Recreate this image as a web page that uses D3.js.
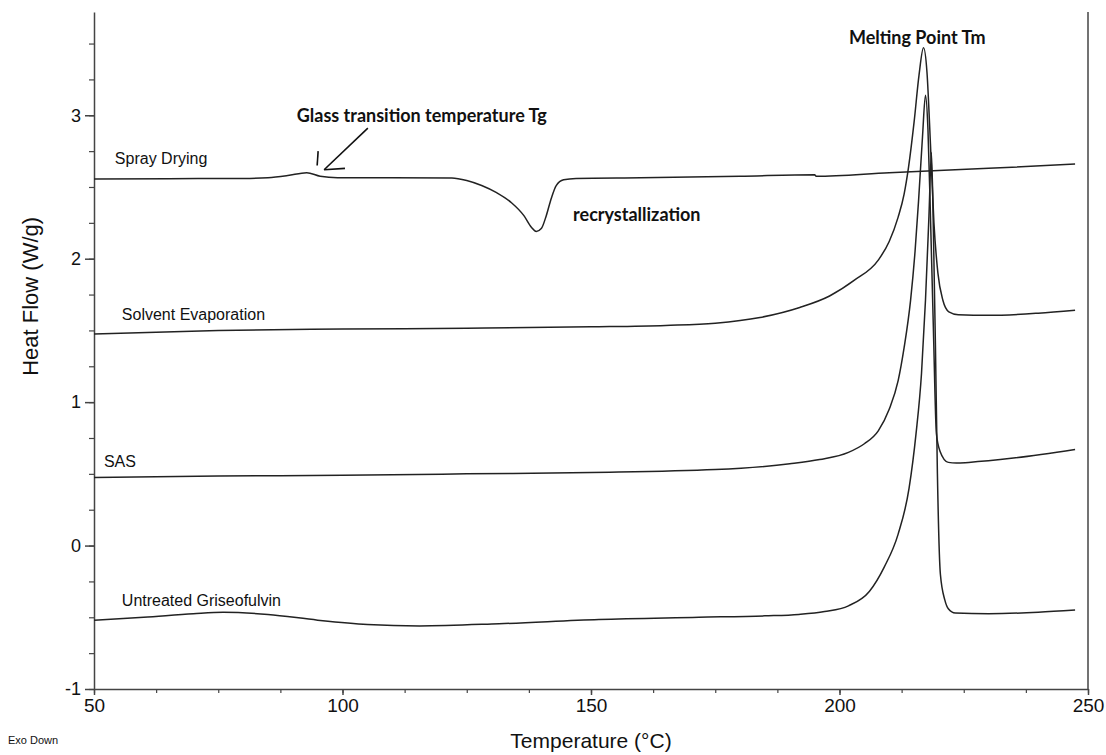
<!DOCTYPE html>
<html>
<head>
<meta charset="utf-8">
<script src="https://cdn.jsdelivr.net/npm/d3@7"></script>
<style>
  body { margin: 0; background: #fff; }
  svg { display: block; font-family: "Liberation Sans", Arial, sans-serif; }
</style>
</head>
<body>
<svg width="1106" height="755"></svg>
<script>
const svg = d3.select("svg");
const margin = { top: 12, right: 18, bottom: 66, left: 94 };
const width = svg.attr("width") - margin.left - margin.right;
const height = svg.attr("height") - margin.top - margin.bottom;

const chart = svg.append("g")
    .attr("transform", `translate(${margin.left},${margin.top})`);

// Spray Drying trace (Tg bump + recrystallization dip)
const sprayT = [50, 65, 80, 85, 89, 92.8, 95.5, 99, 110, 122, 125, 128, 131, 134, 136.5, 138, 139, 140, 141, 142, 143, 144.5, 147, 160, 180, 195, 195.3, 210, 230, 247.4];
const sprayV = [2.555, 2.558, 2.56, 2.565, 2.58, 2.60, 2.575, 2.565, 2.565, 2.563, 2.545, 2.51, 2.46, 2.39, 2.30, 2.22, 2.19, 2.21, 2.30, 2.42, 2.51, 2.55, 2.56, 2.565, 2.575, 2.585, 2.575, 2.60, 2.63, 2.66];

// Solvent Evaporation trace
const solventT = [50, 75, 100, 125, 150, 165, 175, 184, 192, 198, 203, 207.8, 210, 211.8, 213, 213.9, 215, 216, 216.9, 217.6, 218.3, 219, 219.8, 220.8, 222, 223.9, 230, 240, 247.4];
const solventV = [1.475, 1.50, 1.51, 1.515, 1.525, 1.535, 1.55, 1.59, 1.66, 1.74, 1.85, 1.99, 2.12, 2.29, 2.45, 2.64, 2.95, 3.28, 3.47, 3.3, 2.8, 2.25, 1.9, 1.71, 1.63, 1.61, 1.605, 1.62, 1.64];

// SAS trace
const sasT = [50, 75, 100, 125, 150, 175, 190, 196, 201.8, 205, 207.8, 210, 211.8, 213, 214.3, 215.2, 215.9, 216.7, 217.3, 217.8, 218.3, 218.9, 219.5, 220.2, 221.9, 223.5, 226, 235, 247.4];
const sasV = [0.475, 0.485, 0.49, 0.50, 0.51, 0.53, 0.57, 0.60, 0.65, 0.71, 0.80, 0.95, 1.15, 1.38, 1.71, 2.05, 2.4, 2.85, 3.14, 2.9, 2.3, 1.5, 0.78, 0.66, 0.58, 0.575, 0.58, 0.61, 0.67];

// Untreated Griseofulvin trace
const untreatedT = [50, 60, 70, 76, 85, 95, 105, 115.5, 131.5, 151.6, 171.7, 185, 191.8, 197, 201.8, 206, 209, 211.8, 214, 215.4, 216.5, 217.3, 218, 218.5, 218.9, 219.3, 219.7, 220.3, 221.2, 221.9, 223.3, 230, 240, 247.4];
const untreatedV = [-0.52, -0.50, -0.475, -0.465, -0.48, -0.52, -0.55, -0.56, -0.545, -0.515, -0.50, -0.49, -0.48, -0.46, -0.42, -0.32, -0.15, 0.08, 0.4, 0.78, 1.2, 1.71, 2.3, 2.74, 2.18, 1.4, 0.5, -0.2, -0.38, -0.44, -0.47, -0.475, -0.465, -0.45];

const series = [
    { name: "Spray Drying", t: sprayT, v: sprayV, labelT: 54.2, labelV: 2.66 },
    { name: "Solvent Evaporation", t: solventT, v: solventV, labelT: 55.6, labelV: 1.575 },
    { name: "SAS", t: sasT, v: sasV, labelT: 52, labelV: 0.55 },
    { name: "Untreated Griseofulvin", t: untreatedT, v: untreatedV, labelT: 55.6, labelV: -0.42 }
];

const xTicks = [50, 100, 150, 200, 250];
const yTicks = [-1, 0, 1, 2, 3];

const xScale = d3.scaleLinear().domain([50, 250]).range([0, width]);
const yScale = d3.scaleLinear().domain([-1, 3.72]).range([height, 0]);

// minor ticks
const xMinor = d3.range(50, 250.01, 12.5);
const yMinor = d3.range(-1, 3.6, 0.25);

chart.append("g")
    .attr("transform", `translate(0,${height})`)
    .call(d3.axisBottom(xScale).tickValues(xMinor).tickSize(4).tickFormat(""))
    .call(g => g.select(".domain").remove())
    .selectAll("line").attr("stroke", "#444").attr("stroke-width", 1.2);

chart.append("g")
    .call(d3.axisLeft(yScale).tickValues(yMinor).tickSize(5).tickFormat(""))
    .call(g => g.select(".domain").remove())
    .selectAll("line").attr("stroke", "#444").attr("stroke-width", 1.2);

// Y-axis
chart.append("g")
    .call(d3.axisLeft(yScale).tickValues(yTicks).tickSize(9).tickSizeOuter(0).tickPadding(4).tickFormat(d => String(d)))
    .call(g => g.select(".domain").attr("stroke", "#444").attr("stroke-width", 1.5))
    .call(g => g.selectAll("line").attr("stroke", "#444").attr("stroke-width", 1.5))
    .selectAll("text")
    .style("font-size", "18px")
    .attr("fill", "#111");

// X-axis
chart.append("g")
    .attr("transform", `translate(0,${height})`)
    .call(d3.axisBottom(xScale).tickValues(xTicks).tickSize(6).tickSizeOuter(0).tickPadding(4).tickFormat(d => String(d)))
    .call(g => g.select(".domain").attr("stroke", "#444").attr("stroke-width", 1.5))
    .call(g => g.selectAll("line").attr("stroke", "#444").attr("stroke-width", 1.5))
    .selectAll("text")
    .style("font-size", "19px")
    .attr("fill", "#111");

// right border
chart.append("line")
    .attr("x1", xScale(250)).attr("x2", xScale(250))
    .attr("y1", 0).attr("y2", height)
    .attr("stroke", "#444").attr("stroke-width", 1.5);

const line = d3.line()
    .x(d => xScale(d[0]))
    .y(d => yScale(d[1]))
    .curve(d3.curveMonotoneX);

chart.selectAll(".trace")
    .data(series)
    .enter().append("path")
    .attr("class", "trace")
    .attr("d", d => line(d.t.map((t, i) => [t, d.v[i]])))
    .attr("fill", "none")
    .attr("stroke", "#222")
    .attr("stroke-width", 1.5);

chart.selectAll(".label")
    .data(series)
    .enter().append("text")
    .attr("x", d => xScale(d.labelT))
    .attr("y", d => yScale(d.labelV))
    .text(d => d.name)
    .style("font-size", "16px")
    .attr("fill", "#111");

// annotations
const notes = [
    { text: "Glass transition temperature Tg", t: 90.8, v: 2.95 },
    { text: "recrystallization", t: 146.4, v: 2.26 },
    { text: "Melting Point Tm", t: 201.9, v: 3.50 }
];
chart.selectAll(".note")
    .data(notes)
    .enter().append("text")
    .attr("x", d => xScale(d.t))
    .attr("y", d => yScale(d.v))
    .text(d => d.text)
    .style("font-family", "Lato, 'Open Sans', sans-serif")
    .style("font-weight", "bold")
    .style("font-size", "18px")
    .attr("fill", "#111");

// hand-drawn arrow to Tg
const arrow = [
    [[105.1, 2.91], [96.3, 2.62]],
    [[96.3, 2.62], [100.5, 2.63]],
    [[95.1, 2.75], [94.9, 2.65]]
];
chart.selectAll(".arrow")
    .data(arrow)
    .enter().append("line")
    .attr("x1", d => xScale(d[0][0])).attr("y1", d => yScale(d[0][1]))
    .attr("x2", d => xScale(d[1][0])).attr("y2", d => yScale(d[1][1]))
    .attr("stroke", "#111").attr("stroke-width", 1.6);

// axis titles
svg.append("text")
    .attr("transform", `translate(38,${margin.top + height * 0.42}) rotate(-90)`)
    .attr("text-anchor", "middle")
    .style("font-size", "22px")
    .attr("fill", "#111")
    .text("Heat Flow (W/g)");

svg.append("text")
    .attr("x", margin.left + xScale(150))
    .attr("y", 748)
    .attr("text-anchor", "middle")
    .style("font-size", "21px")
    .attr("fill", "#111")
    .text("Temperature (°C)");

svg.append("text")
    .attr("x", 8)
    .attr("y", 744)
    .style("font-size", "11px")
    .attr("fill", "#111")
    .text("Exo Down");
</script>
</body>
</html>
